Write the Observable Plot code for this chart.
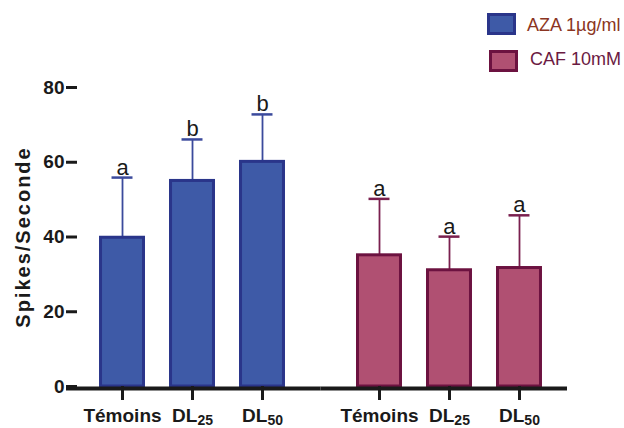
<!DOCTYPE html>
<html><head><meta charset="utf-8">
<script src="https://cdn.jsdelivr.net/npm/d3@7"></script>
<script src="https://cdn.jsdelivr.net/npm/@observablehq/plot@0.6"></script>
<style>
body{margin:0;background:#fff;}
#wrap{position:relative;width:624px;height:428px;overflow:hidden;}
.lg-box{position:absolute;box-sizing:border-box;width:29px;height:22px;border:3px solid;}
.lg-text{position:absolute;font-family:"Liberation Sans",Arial,sans-serif;font-size:18px;line-height:18px;white-space:nowrap;}
g[aria-label="y-axis label"] text{letter-spacing:2px;}
</style></head>
<body><div id="wrap"></div>
<script>
const groups = ["AZA 1µg/ml", "CAF 10mM"];
const doses = ["Témoins", "DL25", "DL50"];
const azaMeans = [39.8, 55.0, 60.1];
const azaErrors = [16.1, 11.1, 12.7];
const azaLetters = ["a", "b", "b"];
const cafMeans = [35.1, 31.1, 31.7];
const cafErrors = [15.1, 9.0, 14.1];
const cafLetters = ["a", "a", "a"];
const yTicks = [0, 20, 40, 60, 80];
const yLabel = "Spikes/Seconde";

const styles = {
  [groups[0]]: {fill: "#3e5aa7", stroke: "#2a358a", whisker: "#3b4a9c", text: "#8b3522"},
  [groups[1]]: {fill: "#b05072", stroke: "#6c1240", whisker: "#7a1f4e", text: "#6b1a42"}
};

function rowsFor(group, means, errors, letters) {
  return doses.map((dose, i) => ({group, dose, mean: means[i], upper: means[i] + errors[i], letter: letters[i]}));
}
const azaRows = rowsFor(groups[0], azaMeans, azaErrors, azaLetters);
const cafRows = rowsFor(groups[1], cafMeans, cafErrors, cafLetters);

function groupMarks(rows) {
  const s = styles[rows[0].group];
  return [
    Plot.ruleX(rows, {fx: "group", x: "dose", y1: "mean", y2: "upper", stroke: s.whisker, strokeWidth: 1.8}),
    Plot.barY(rows, {fx: "group", x: "dose", y: "mean", fill: s.fill, stroke: s.stroke, strokeWidth: 3}),
    Plot.tickY(rows, {fx: "group", x: "dose", y: "upper", stroke: s.whisker, strokeWidth: 2.5, insetLeft: 11, insetRight: 11}),
    Plot.text(rows, {fx: "group", x: "dose", y: "upper", text: "letter", dy: -3, lineAnchor: "bottom", fontSize: 22, fontWeight: "normal", fill: "#1a1a1a"})
  ];
}

const plot = Plot.plot({
  width: 624, height: 428,
  marginTop: 87, marginBottom: 42, marginLeft: 77, marginRight: 60,
  style: {fontFamily: "'Liberation Sans', Arial, sans-serif", fontWeight: "bold", color: "#1a1a1a", background: "white"},
  fx: {domain: groups, axis: null, paddingInner: 0.105, paddingOuter: 0, round: false, label: null},
  x: {domain: doses, paddingInner: 0.386, paddingOuter: 0.336, round: false},
  y: {domain: [yTicks[0], yTicks[yTicks.length - 1]]},
  marks: [
    ...groupMarks(azaRows),
    ...groupMarks(cafRows),
    Plot.ruleY([{group: groups[0], v: yTicks[0]}], {fx: "group", y: "v", stroke: "#1a1a1a", strokeWidth: 4, dy: 2, insetLeft: -11, insetRight: -13.5}),
    Plot.ruleY([{group: groups[1], v: yTicks[0]}], {fx: "group", y: "v", stroke: "#1a1a1a", strokeWidth: 4, dy: 2, insetLeft: -13.5, insetRight: -3}),
    Plot.axisX({tickSize: 14, tickPadding: 8, strokeWidth: 3, fontSize: 19, label: null}),
    Plot.axisY({ticks: yTicks, tickSize: 11, tickPadding: 2, strokeWidth: 3, fontSize: 19, label: null}),
    Plot.axisY({ticks: [], label: yLabel, labelArrow: "none", labelAnchor: "center", labelOffset: 62, fontSize: 20})
  ]
});

// remove any arrow from the y label
d3.select(plot).selectAll('g[aria-label="y-axis label"] text').each(function() {
  this.textContent = this.textContent.replace(/[\u2190-\u2193]/g, "").trim();
});

// subscripts for DL labels
d3.select(plot).selectAll('g[aria-label="x-axis tick label"] text').each(function() {
  const t = this.textContent;
  const m = /^DL(\d+)$/.exec(t);
  if (m) {
    const el = d3.select(this);
    el.text("DL");
    el.append("tspan").attr("font-size", 14).attr("dy", 3).text(m[1]);
  }
});

const wrap = document.getElementById("wrap");
wrap.appendChild(plot);

const legendPos = [
  {box: [487, 13], text: [527, 16]},
  {box: [489, 50], text: [530, 50]}
];
groups.forEach((g, i) => {
  const s = styles[g];
  const b = document.createElement("div");
  b.className = "lg-box";
  b.style.left = legendPos[i].box[0] + "px";
  b.style.top = legendPos[i].box[1] + "px";
  b.style.background = s.fill;
  b.style.borderColor = s.stroke;
  wrap.appendChild(b);
  const t = document.createElement("div");
  t.className = "lg-text";
  t.style.left = legendPos[i].text[0] + "px";
  t.style.top = legendPos[i].text[1] + "px";
  t.style.color = s.text;
  t.textContent = g;
  wrap.appendChild(t);
});
</script>
</body></html>
